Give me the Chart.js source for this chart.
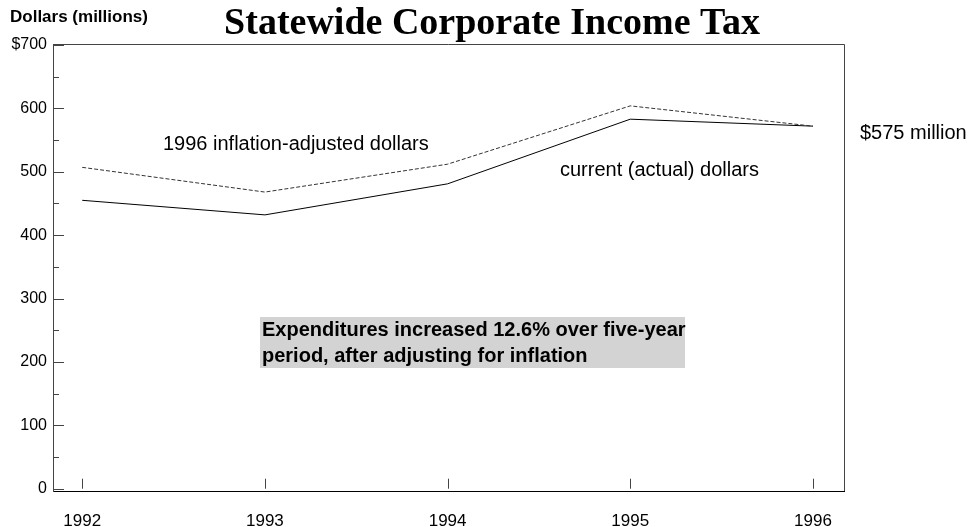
<!DOCTYPE html>
<html><head><meta charset="utf-8">
<script src="https://cdn.jsdelivr.net/npm/chart.js@4/dist/chart.umd.min.js"></script>
<style>html,body{margin:0;padding:0;background:#fff;}#wrap{width:969px;height:527px;position:relative;}</style>
</head><body><div id="wrap"><canvas id="c" width="969" height="527"></canvas></div>
<script>
const years = [1992, 1993, 1994, 1995, 1996];
const adjustedDollars = [507, 468, 512, 604, 572];
const currentDollars = [455, 432, 481, 583, 572];
const yTickValues = [0, 100, 200, 300, 400, 500, 600, 700];
const yMinorValues = [50, 150, 250, 350, 450, 550, 650];

const SANS = '"Liberation Sans", Arial, sans-serif';
const SERIF = '"Liberation Serif", "Times New Roman", serif';

const decor = {
  id: 'decor',
  afterDraw(chart) {
    const ctx = chart.ctx, a = chart.chartArea;
    const xs = chart.scales.x, ys = chart.scales.y;
    ctx.save();
    ctx.strokeStyle = '#444'; ctx.lineWidth = 1;
    ctx.beginPath();
    ctx.moveTo(a.left, a.top + 0.5); ctx.lineTo(a.right + 0.5, a.top + 0.5);
    ctx.lineTo(a.right + 0.5, a.bottom);
    ctx.stroke();
    yTickValues.forEach(v => {
      const y = Math.round(ys.getPixelForValue(v)) + 0.5;
      ctx.beginPath(); ctx.moveTo(a.left, y); ctx.lineTo(a.left + 11, y); ctx.stroke();
    });
    yMinorValues.forEach(v => {
      const y = Math.round(ys.getPixelForValue(v)) + 0.5;
      ctx.beginPath(); ctx.moveTo(a.left, y); ctx.lineTo(a.left + 6, y); ctx.stroke();
    });
    const y0 = ys.getPixelForValue(0);
    years.forEach(yr => {
      const x = Math.round(xs.getPixelForValue(yr)) + 0.5;
      ctx.beginPath(); ctx.moveTo(x, y0); ctx.lineTo(x, y0 - 10); ctx.stroke();
    });
    ctx.fillStyle = '#d3d3d3';
    ctx.fillRect(260, 317, 425, 51);
    ctx.fillStyle = '#000';
    ctx.textBaseline = 'middle';
    ctx.textAlign = 'left';
    ctx.font = 'bold 20px ' + SANS;
    ctx.fillText('Expenditures increased 12.6% over five-year', 262, 330);
    ctx.fillText('period, after adjusting for inflation', 262, 356);
    ctx.font = '20px ' + SANS;
    ctx.fillText('1996 inflation-adjusted dollars', 163, 144);
    ctx.fillText('current (actual) dollars', 560, 170);
    ctx.fillText('$575 million', 860, 133);
    ctx.font = 'bold 17px ' + SANS;
    ctx.fillText('Dollars (millions)', 10, 17);
    ctx.textAlign = 'center';
    ctx.textBaseline = 'alphabetic';
    ctx.font = 'bold 38px ' + SERIF;
    ctx.fillText('Statewide Corporate Income Tax', 492, 34);
    ctx.restore();
  }
};

new Chart(document.getElementById('c'), {
  type: 'line',
  data: {
    datasets: [
      { label: '1996 inflation-adjusted dollars', data: years.map((y, i) => ({x: y, y: adjustedDollars[i]})),
        borderColor: '#333', borderWidth: 1, borderDash: [4, 2], pointRadius: 0, tension: 0, fill: false },
      { label: 'current (actual) dollars', data: years.map((y, i) => ({x: y, y: currentDollars[i]})),
        borderColor: '#000', borderWidth: 1, pointRadius: 0, tension: 0, fill: false }
    ]
  },
  options: {
    responsive: false, animation: false,
    layout: { padding: { left: 0, top: 44, right: 125, bottom: 0 } },
    plugins: { legend: { display: false }, tooltip: { enabled: false }, title: { display: false } },
    scales: {
      x: {
        type: 'linear', min: 1991.84, max: 1996.17,
        afterBuildTicks: s => { s.ticks = years.map(v => ({ value: v })); },
        afterFit: s => { s.height = 36; },
        grid: { display: false, drawTicks: false },
        border: { display: true, color: '#000', width: 1 },
        ticks: { color: '#000', font: { family: SANS, size: 17 }, padding: 20, maxRotation: 0,
          callback: v => String(v) }
      },
      y: {
        type: 'linear', min: -3.6, max: 701.6,
        afterBuildTicks: s => { s.ticks = yTickValues.map(v => ({ value: v })); },
        afterFit: s => { s.width = 53; },
        grid: { display: false, drawTicks: false },
        border: { display: true, color: '#444', width: 1 },
        ticks: { color: '#000', font: { family: SANS, size: 16 }, padding: 6,
          callback: v => v === 700 ? '$700' : String(v) }
      }
    }
  },
  plugins: [decor]
});
</script></body></html>
